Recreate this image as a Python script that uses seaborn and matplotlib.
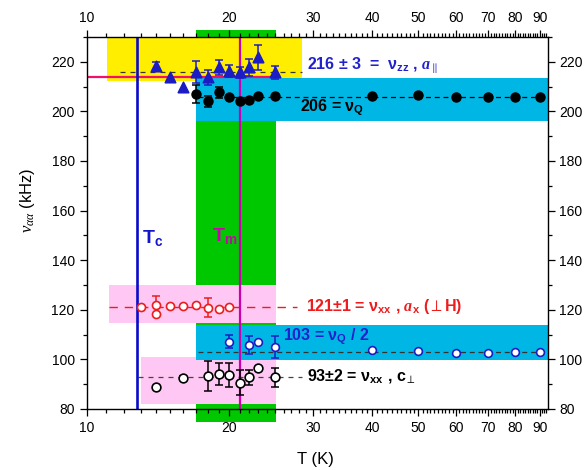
import numpy as np
import matplotlib
matplotlib.use('Agg')
import matplotlib.pyplot as plt
import seaborn as sns
from matplotlib.patches import Rectangle
from matplotlib.ticker import FixedLocator, FuncFormatter, NullFormatter

# nu_zz, a_par (blue triangles)
tri_T = [14, 15, 16, 17, 18, 19, 20, 21, 22, 23, 25]
tri_nu = [218.4, 214.0, 210.0, 216.0, 213.7, 217.7, 216.4, 215.7, 217.7, 221.8, 215.7]
tri_err = [1.6, 0, 0, 4.4, 2.9, 2.9, 2.5, 2.4, 3.4, 5.0, 2.5]

# nu_Q (black filled circles)
nq_T = [17, 18, 19, 20, 21, 22, 23, 25, 40, 50, 60, 70, 80, 90]
nq_nu = [207.0, 204.1, 207.7, 205.7, 204.3, 204.6, 206.1, 206.1, 206.1, 206.6, 205.8, 206.0, 205.7, 206.0]
nq_err = [3.5, 2.15, 2.15, 0, 0, 0, 0, 0, 0, 0, 0, 0, 0, 0]

# nu_xx, a_x (red open circles)
rx_T = [13, 14, 14, 15, 16, 17, 18, 19, 20]
rx_nu = [121.2, 121.9, 118.5, 121.6, 121.6, 122.1, 120.8, 120.5, 121.2]
rx_err = [0, 3.6, 0, 0, 0, 0, 3.8, 0, 0]

# nu_Q / 2 (blue open circles)
hq_T = [20, 22, 23, 25, 40, 50, 60, 70, 80, 90]
hq_nu = [107.1, 105.8, 107.1, 105.1, 103.7, 103.3, 102.7, 102.4, 102.8, 102.9]
hq_err = [2.7, 3.55, 0, 4.4, 0, 0, 0, 0, 0, 0]

# nu_xx, c_perp (black open circles)
cx_T = [14, 16, 18, 19, 20, 21, 22, 23, 25]
cx_nu = [89.0, 92.4, 93.3, 94.1, 93.7, 90.6, 92.8, 96.6, 92.8]
cx_err = [0, 0.8, 6.2, 4.35, 4.7, 5.0, 3.0, 0, 3.8]

Tc = 12.75
Tm = 21.05
x_major = [10, 20, 30, 40, 50, 60, 70, 80, 90]

sns.set_theme(style='ticks')
plt.rcParams['font.family'] = ['Liberation Sans', 'DejaVu Sans']
plt.rcParams['mathtext.fontset'] = 'custom'
plt.rcParams['mathtext.rm'] = 'Liberation Sans'
plt.rcParams['mathtext.bf'] = 'Liberation Sans:bold'
plt.rcParams['mathtext.it'] = 'Liberation Serif:italic'
plt.rcParams['mathtext.cal'] = 'Liberation Serif:italic:bold'
plt.rcParams['mathtext.default'] = 'regular'

fig = plt.figure(figsize=(5.85, 4.70), dpi=100)
ax = fig.add_axes([0.1479, 0.1298, 0.7880, 0.7915])
ax.set_xscale('log')
ax.set_xlim(10, 93.5)
ax.set_ylim(80, 230)

YELLOW = '#ffee00'
GREEN = '#00c800'
CYAN = '#00b6e4'
PINK = '#ffc8f4'
BLUE = '#1c1cc4'
RED = '#ee1c1c'
MAGENTA = '#cc00b0'


def box(x0, x1, y0, y1, color, z, clip=True):
    ax.add_patch(Rectangle((x0, y0), x1 - x0, y1 - y0, facecolor=color,
                           edgecolor='none', zorder=z, clip_on=clip))


# shaded regions
box(17.0, 25.1, 74.8, 233.0, GREEN, 0.5, clip=False)
box(11.03, 28.5, 212.1, 230, YELLOW, 0.6)
box(17.0, 93.5, 196.0, 213.5, CYAN, 0.7)
box(11.15, 25.1, 114.6, 130.1, PINK, 0.7)
box(13.0, 25.1, 82.2, 101.0, PINK, 0.7)
box(17.0, 93.5, 99.7, 113.7, CYAN, 0.75)

# guide lines
ax.plot([11.76, 28.4], [216, 216], color='#333333', lw=0.9, ls=(0, (4, 4)), zorder=1.5)
ax.plot([17.2, 90], [206, 206], color='black', lw=0.9, ls=(0, (4, 3)), zorder=1.5)
ax.plot([11.15, 27.7], [121, 121], color=RED, lw=1.0, ls=(0, (6, 5)), zorder=1.5)
ax.plot([17.2, 90], [103, 103], color='#333333', lw=0.9, ls=(0, (4, 3)), zorder=1.5)
ax.plot([12.85, 28.4], [93, 93], color='#444444', lw=0.9, ls=(0, (4, 4)), zorder=1.5)

ax.plot([10, 24.7], [214, 214], color='#f0106a', lw=1.6, zorder=1.8)
ax.axvline(Tc, color='#0a0ac8', lw=1.9, zorder=1.8)
ax.axvline(Tm, color=MAGENTA, lw=1.6, zorder=1.8)


def series(T, nu, err, marker, face, edge, size, ecolor):
    T = np.asarray(T, float)
    nu = np.asarray(nu, float)
    err = np.asarray(err, float)
    m = err > 0
    ax.errorbar(T[m], nu[m], yerr=err[m], fmt='none', ecolor=ecolor,
                elinewidth=1.1, capsize=2.6, capthick=1.1, zorder=2)
    sns.scatterplot(x=T, y=nu, marker=marker, s=size ** 2, color=face,
                    edgecolor=edge, linewidth=1.2, ax=ax, zorder=3, legend=False)


series(tri_T, tri_nu, tri_err, '^', BLUE, BLUE, 7.5, BLUE)
series(nq_T, nq_nu, nq_err, 'o', 'black', 'black', 6.3, 'black')
series(rx_T, rx_nu, rx_err, 'o', 'white', RED, 5.8, RED)
series(hq_T, hq_nu, hq_err, 'o', 'white', BLUE, 5.6, BLUE)
series(cx_T, cx_nu, cx_err, 'o', 'white', 'black', 6.3, 'black')

# labels
tb = dict(fontsize=11.5, fontweight='bold', va='center', ha='left')
ax.text(29.1, 218.7, '216 ± 3  =  ν$_{zz}$ , $\\mathcal{a}_{\\parallel}$', color='#2222cc', **tb)
ax.text(28.15, 201.6, '206 = ν$_{Q}$', color='black', **tb)
ax.text(29.0, 121.2, '121±1 = ν$_{xx}$ , $\\mathcal{a}_{x}$ ($\\perp$H)', color=RED, **tb)
ax.text(25.9, 109.1, '103 = ν$_{Q}$ / 2', color='#2222cc', **tb)
ax.text(29.1, 92.8, '93±2 = ν$_{xx}$ , c$_{\\perp}$', color='black', **tb)
ax.text(13.09, 149.0, 'T$_{c}$', color='#1414cc', fontsize=14, fontweight='bold', va='center')
ax.text(18.4, 149.6, 'T$_{m}$', color=MAGENTA, fontsize=14, fontweight='bold', va='center')

# axes styling
ax.xaxis.set_major_locator(FixedLocator(x_major))
ax.xaxis.set_major_formatter(FuncFormatter(lambda v, p: f'{v:g}'))
ax.xaxis.set_minor_locator(FixedLocator([t for t in range(11, 94) if t % 10]))
ax.xaxis.set_minor_formatter(NullFormatter())
ax.set_yticks(range(80, 221, 20))
ax.set_yticks(range(80, 231, 10), minor=True)
ax.tick_params(which='both', direction='out', top=True, right=True,
               labeltop=True, labelright=True, colors='black', width=0.9)
ax.tick_params(which='major', length=5, labelsize=10)
ax.tick_params(which='minor', length=2.6)
for s in ax.spines.values():
    s.set_color('black')
    s.set_linewidth(1.0)
    s.set_zorder(4)

ax.set_xlabel('T (K)', fontsize=12, color='black')
ax.set_ylabel(r'$\mathit{\nu_{\alpha\alpha}}$ (kHz)', fontsize=12, color='black')
ax.xaxis.set_label_coords(0.497, -0.115)
ax.yaxis.set_label_coords(-0.107, 0.56)

fig.savefig('out.png', dpi=100)
